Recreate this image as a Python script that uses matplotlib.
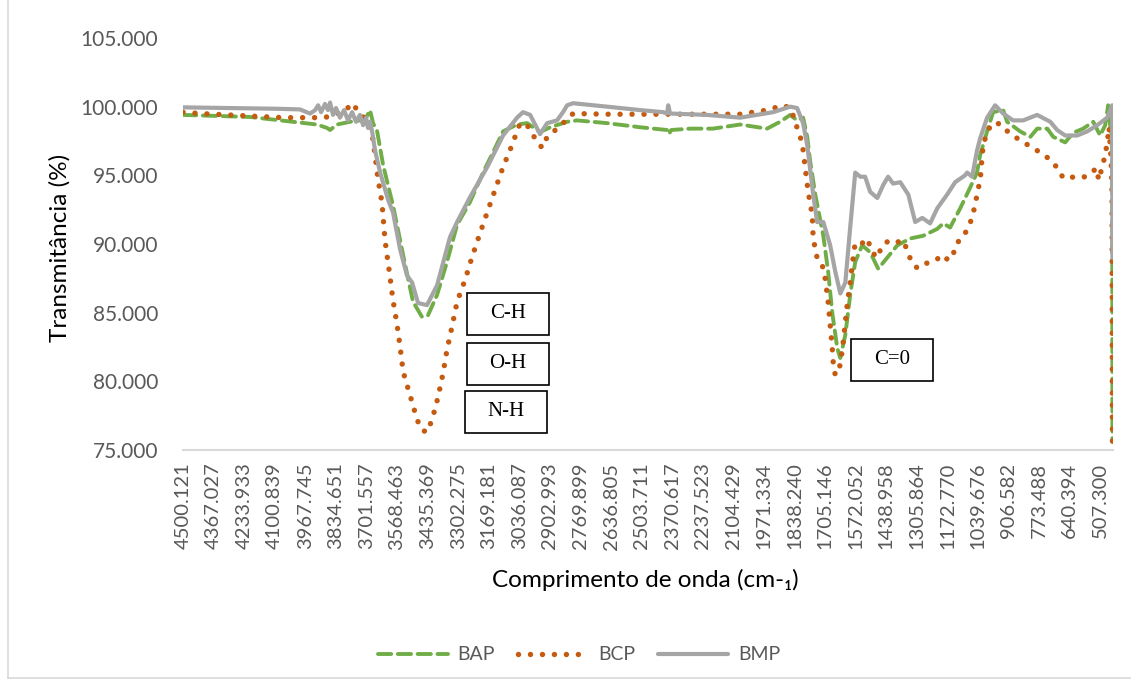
import matplotlib
matplotlib.use("Agg")
import matplotlib.pyplot as plt
from matplotlib.patches import Rectangle
from matplotlib.lines import Line2D

# ---------------- data ----------------
bmp_w = [4500, 4300, 4100, 3991, 3947, 3925, 3912, 3899, 3882, 3869, 3860, 3847, 3834, 3817,
         3799, 3782, 3764, 3747, 3730, 3716, 3703, 3695, 3686, 3677, 3664, 3642, 3607, 3586,
         3555, 3525, 3503, 3477, 3438, 3394, 3338, 3307, 3251, 3176, 3107, 3046, 3020, 2989,
         2946, 2915, 2872, 2846, 2828, 2802, 2654, 2510, 2410, 2393, 2388, 2380, 2219, 2075,
         1931, 1857, 1827, 1801, 1783, 1757, 1740, 1713, 1683, 1661, 1639, 1617, 1596, 1574,
         1552, 1531, 1509, 1478, 1452, 1431, 1409, 1378, 1343, 1313, 1282, 1248, 1217, 1174,
         1139, 1096, 1087, 1065, 1044, 1030, 1000, 965, 930, 887, 843, 782, 725, 695, 660,
         608, 564, 521, 477, 455.5, 454.5]
bmp_t = [99.95, 99.9, 99.85, 99.8, 99.5, 99.75, 100.1, 99.6, 100.2, 99.75, 100.3, 99.4, 99.9, 99.2,
         99.75, 99.0, 99.6, 98.9, 99.4, 98.65, 99.2, 98.45, 98.9, 98.2, 96.8, 95.2, 93.2, 92.3,
         89.6, 87.7, 87.2, 85.7, 85.55, 87.0, 90.5, 91.6, 93.4, 95.6, 97.9, 99.2, 99.6, 99.4,
         98.0, 98.8, 99.0, 99.6, 100.1, 100.25, 100.0, 99.75, 99.6, 99.5, 100.1, 99.5, 99.4, 99.2,
         99.6, 100.0, 99.9, 98.8, 97.2, 93.6, 91.6, 91.6, 89.9, 88.0, 86.4, 87.2, 91.2, 95.2,
         94.9, 94.9, 93.8, 93.35, 94.3, 94.9, 94.4, 94.5, 93.6, 91.6, 91.9, 91.5, 92.6, 93.6,
         94.5, 95.0, 95.2, 94.9, 96.8, 97.7, 99.2, 100.1, 99.5, 99.0, 99.0, 99.4, 98.9, 98.3, 97.9,
         97.9, 98.2, 98.65, 99.2, 100.1, 89.0]

bap_w = [4500, 4208, 3917, 3873, 3860, 3830, 3773, 3730, 3700, 3686, 3673, 3655, 3629, 3586,
         3542, 3499, 3460, 3434, 3394, 3351, 3307, 3251, 3194, 3150, 3107, 3046, 3002, 2946,
         2902, 2828, 2785, 2654, 2510, 2393, 2385, 2375, 2293, 2193, 2075, 1958, 1901, 1857,
         1827, 1801, 1783, 1770, 1748, 1713, 1692, 1674, 1652, 1639, 1617, 1596, 1574, 1544,
         1509, 1474, 1435, 1391, 1335, 1278, 1217, 1191, 1161, 1117, 1074, 1044, 1030, 1000,
         974, 930, 913, 856, 812, 782, 738, 712, 660, 625, 582, 538, 508, 486, 473, 460, 455.5,
         454.5]
bap_t = [99.4, 99.25, 98.7, 98.45, 98.3, 98.7, 98.9, 99.0, 99.3, 99.75, 98.8, 98.2, 95.75, 92.8,
         89.2, 85.8, 84.7, 84.8, 86.3, 88.7, 91.4, 93.05, 95.2, 96.7, 98.2, 98.7, 98.8, 98.15,
         98.5, 98.9, 99.0, 98.8, 98.5, 98.3, 98.0, 98.3, 98.4, 98.4, 98.7, 98.4, 98.9, 99.4,
         99.0, 99.2, 97.8, 96.0, 93.6, 90.6, 88.0, 85.0, 82.4, 81.7, 83.4, 86.3, 88.7, 89.9,
         89.4, 88.2, 89.0, 89.9, 90.4, 90.6, 91.1, 91.5, 91.2, 92.6, 94.1, 95.2, 96.5, 98.2,
         99.6, 99.75, 98.9, 98.2, 97.8, 98.4, 98.4, 97.8, 97.4, 98.1, 98.4, 98.9, 97.9, 98.65,
         100.1, 97.9, 98.5, 75.6]

bcp_w = [4500, 4426, 4065, 3917, 3873, 3830, 3804, 3760, 3743, 3716, 3686, 3673, 3651, 3634,
         3621, 3599, 3586, 3569, 3555, 3542, 3512, 3481, 3460, 3438, 3416, 3390, 3368, 3351,
         3329, 3307, 3272, 3242, 3207, 3176, 3107, 3068, 3033, 3002, 2976, 2937, 2915, 2889,
         2846, 2802, 2654, 2510, 2367, 2219, 2075, 1958, 1888, 1857, 1836, 1823, 1805, 1792,
         1779, 1761, 1757, 1740, 1718, 1705, 1692, 1683, 1674, 1670, 1661, 1639, 1626, 1609,
         1596, 1583, 1574, 1544, 1522, 1500, 1478, 1457, 1431, 1400, 1369, 1348, 1330, 1304,
         1278, 1235, 1191, 1169, 1148, 1130, 1104, 1083, 1065, 1052, 1039, 1030, 1022, 1017,
         1000, 978, 943, 908, 878, 843, 804, 738, 717, 691, 669, 638, 608, 573, 551, 521, 515,
         499, 486, 477, 469, 460, 456, 454.5]
bcp_t = [99.6, 99.5, 99.2, 99.2, 99.25, 99.5, 99.6, 100.25, 99.75, 99.25, 98.5, 97.6, 94.7, 93.0,
         90.3, 87.6, 85.9, 84.2, 82.5, 80.7, 79.0, 77.2, 76.45, 76.3, 77.2, 78.85, 80.6, 82.3,
         84.0, 85.8, 87.4, 89.05, 90.8, 92.3, 95.6, 97.2, 98.8, 98.65, 97.9, 97.0, 97.8, 98.15,
         98.8, 99.5, 99.45, 99.45, 99.45, 99.45, 99.45, 99.75, 100.1, 99.9, 99.0, 98.2, 97.4, 95.6,
         93.8, 92.1, 90.4, 89.0, 88.5, 87.5, 85.8, 84.1, 82.4, 81.4, 80.45, 81.2, 82.9, 85.6,
         87.2, 89.0, 90.1, 90.05, 90.4, 89.4, 89.0, 89.9, 90.2, 90.05, 90.3, 89.6, 88.7, 88.25,
         88.55, 88.7, 89.2, 88.8, 89.25, 90.1, 90.5, 91.2, 91.9, 92.9, 94.0, 94.65, 96.3, 97.2,
         98.15, 98.8, 98.75, 98.15, 97.8, 97.4, 97.05, 96.3, 95.95, 95.5, 94.8, 94.9, 94.8, 94.9,
         95.2, 95.5, 94.65, 95.6, 96.5, 97.4, 98.5, 96.0, 93.6, 74.9]

x_labels = ["4500.121", "4367.027", "4233.933", "4100.839", "3967.745", "3834.651", "3701.557",
            "3568.463", "3435.369", "3302.275", "3169.181", "3036.087", "2902.993", "2769.899",
            "2636.805", "2503.711", "2370.617", "2237.523", "2104.429", "1971.334", "1838.240",
            "1705.146", "1572.052", "1438.958", "1305.864", "1172.770", "1039.676", "906.582",
            "773.488", "640.394", "507.300"]
x_ticks = [float(s) for s in x_labels]
y_ticks = [75, 80, 85, 90, 95, 100, 105]
y_labels = ["75.000", "80.000", "85.000", "90.000", "95.000", "100.000", "105.000"]
series_names = ["BAP", "BCP", "BMP"]
annot_labels = ["C-H", "O-H", "N-H", "C=0"]

# ---------------- figure ----------------
W, H = 1131, 684
fig = plt.figure(figsize=(W / 100, H / 100), dpi=100)
font = ["Lato", "DejaVu Sans"]
grey_txt = "#595959"

def fx(px):
    return px / W

def fy(py):
    return 1 - py / H

ax = fig.add_axes([fx(183), fy(450), fx(1113) - fx(183), fy(38) - fy(450)])

c_green = "#70AD47"
c_orange = "#C55A11"
c_grey = "#A5A5A5"

l1, = ax.plot(bap_w, bap_t, color=c_green, lw=2.8, linestyle=(0, (3.4, 1.7)),
              dash_capstyle="round", solid_joinstyle="round", label=series_names[0])
l2, = ax.plot(bcp_w, bcp_t, color=c_orange, lw=3.9, linestyle=(0, (0.01, 2.2)),
              dash_capstyle="round", label=series_names[1])
l3, = ax.plot(bmp_w, bmp_t, color=c_grey, lw=3.0, solid_joinstyle="round",
              solid_capstyle="round", label=series_names[2])

ax.set_xlim(4500.121, 452)
ax.set_ylim(75, 105)
ax.set_xticks(x_ticks)
ax.set_xticklabels(x_labels, rotation=90, fontsize=14.5, color=grey_txt, family=font)
ax.set_yticks(y_ticks)
ax.set_yticklabels(y_labels, fontsize=15, color=grey_txt, family=font)
ax.tick_params(axis="both", length=0)
ax.tick_params(axis="y", pad=18)
ax.tick_params(axis="x", pad=9)
for s in ["top", "right", "left"]:
    ax.spines[s].set_visible(False)
ax.spines["bottom"].set_color("#D9D9D9")
ax.spines["bottom"].set_linewidth(1.5)
ax.spines["bottom"].set_zorder(0)

fig.text(fx(60), fy(248), "Transmitância (%)", rotation=90, ha="center", va="center",
         fontsize=17.5, color="black", family=font)
fig.text(fx(645), fy(580), "Comprimento de onda (cm-₁)", ha="center", va="center",
         fontsize=17.5, color="black", family=font)

# annotation boxes
boxes = [(467, 293, 82, 42), (467, 343, 82, 42), (465, 391, 82, 42), (851, 339, 82, 42)]
for (bx, by, bw, bh), lab in zip(boxes, annot_labels):
    fig.patches.append(Rectangle((fx(bx), fy(by + bh)), bw / W, bh / H, transform=fig.transFigure,
                                 facecolor="white", edgecolor="black", lw=1.2, zorder=5))
    fig.text(fx(bx + bw / 2), fy(by + bh / 2), lab, ha="center", va="center", fontsize=15,
             family=["Liberation Serif"], color="black", zorder=6)

# legend
leg = fig.legend(handles=[l1, l2, l3], loc="center", bbox_to_anchor=(fx(579), fy(655)),
                 ncol=3, frameon=False, handlelength=3.6, columnspacing=1.2,
                 handletextpad=0.5, prop={"family": font, "size": 14})
for t in leg.get_texts():
    t.set_color(grey_txt)

# chart frame
fig.add_artist(Line2D([fx(8), fx(8)], [fy(678), 1.0], transform=fig.transFigure,
                      color="#D9D9D9", lw=1.2))
fig.add_artist(Line2D([fx(8), 1.0], [fy(678), fy(678)], transform=fig.transFigure,
                      color="#D9D9D9", lw=1.2))

fig.savefig("out.png", dpi=100, facecolor="white")
